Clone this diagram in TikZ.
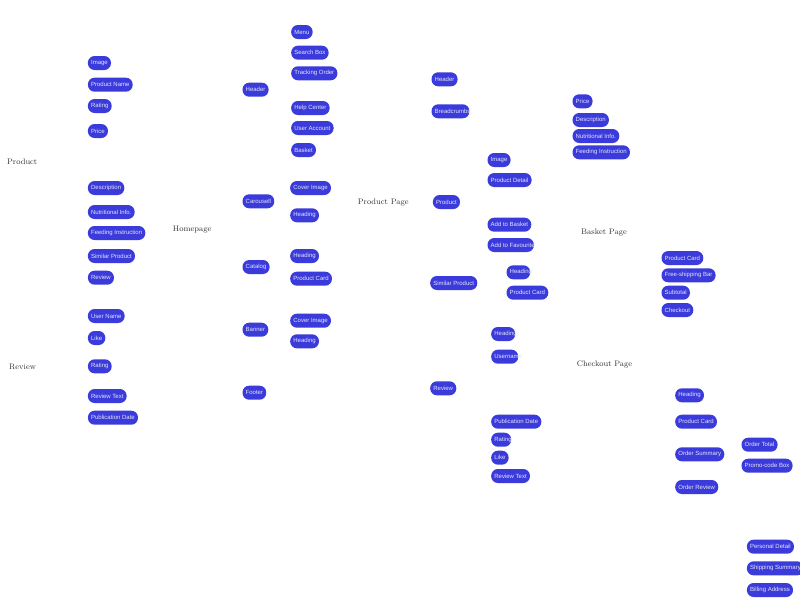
\documentclass[tikz,border=0pt]{standalone}
\usepackage{fontspec}
\newfontfamily\pillfont{Liberation Sans}
\usepackage{xcolor}
\usetikzlibrary{positioning}

\definecolor{pillblue}{HTML}{3B3BDB}
\definecolor{pilltext}{HTML}{E4E4FA}
\definecolor{labelgray}{HTML}{333333}

\tikzset{
pill/.style={fill=pillblue, text=pilltext, rounded corners=6.7pt, minimum height=14pt, inner xsep=3.2pt, inner ysep=0pt, anchor=west, font=\pillfont\fontsize{6}{7}\selectfont},
pagelabel/.style={text=labelgray, anchor=west, inner sep=0pt, font=\fontsize{8}{9}\selectfont}
}

% text that runs past the end of its pill
\newcommand{\cut}[2]{\makebox[#1pt][l]{#2}}

\begin{document}
\begin{tikzpicture}[x=1pt,y=-1pt]

\useasboundingbox (0,0) rectangle (800,598);

% Product
{
\node[pagelabel] (prod) at (7,162) {Product};

\node[pill] (prodImage) at (87.7,63) {Image};
\node[pill] (prodName) at (87.7,84.7) {Product Name};
\node[pill] (prodRating) at (87.7,106) {Rating};
\node[pill] (prodPrice) at (87.7,131) {Price};
\node[pill] (prodDesc) at (87.7,188) {Description};
\node[pill] (prodNutri) at (87.7,212) {Nutritional Info.};
\node[pill] (prodFeed) at (87.7,233) {Feeding Instruction};
\node[pill] (prodSimilar) at (87.7,256) {Similar Product};
\node[pill] (prodReview) at (87.7,277.7) {Review};
}

% Review
{
\node[pagelabel] (rev) at (9,367) {Review};

\node[pill] (revUser) at (87.7,316) {User Name};
\node[pill] (revLike) at (87.7,338) {Like};
\node[pill] (revRating) at (87.7,366.3) {Rating};
\node[pill] (revText) at (87.7,396) {Review Text};
\node[pill] (revDate) at (87.7,417.7) {Publication Date};
}

% Homepage
{
\node[pagelabel] (home) at (172.7,230) {Homepage};

\node[pill] (homeHeader) at (242.3,89.7) {Header};
\node[pill] (homeCarousell) at (242.3,201.3) {Carousell};
\node[pill] (homeCatalog) at (242.3,267) {Catalog};
\node[pill] (homeBanner) at (242.3,329.7) {Banner};
\node[pill] (homeFooter) at (242.3,392.7) {Footer};

\node[pill] (homeMenu) at (291,32) {Menu};
\node[pill] (homeSearch) at (291,52.7) {Search Box};
\node[pill] (homeTracking) at (291,73.3) {Tracking Order};
\node[pill] (homeHelp) at (291,108) {Help Center};
\node[pill] (homeAccount) at (291,128) {User Account};
\node[pill] (homeBasket) at (291,150) {Basket};

\node[pill] (carCover) at (290,188) {Cover Image};
\node[pill] (carHeading) at (290,215.3) {Heading};

\node[pill] (catHeading) at (290,256) {Heading};
\node[pill] (catCard) at (290,278.7) {Product Card};

\node[pill] (banCover) at (290,320.7) {Cover Image};
\node[pill] (banHeading) at (290,341.3) {Heading};
}

% Product Page
{
\node[pagelabel] (pp) at (357.7,203) {Product Page};

\node[pill] (ppHeader) at (431.3,79.3) {Header};
\node[pill] (ppCrumbs) at (431.3,111.3) {\cut{31.5}{Breadcrumbs}};
\node[pill] (ppProduct) at (432.7,202) {Product};
\node[pill] (ppSimilar) at (430,283) {Similar Product};
\node[pill] (ppReview) at (430,388.3) {Review};

\node[pill] (ppImage) at (487.3,160) {Image};
\node[pill] (ppDetail) at (487.3,180) {Product Detail};
\node[pill] (ppAdd) at (487.3,224.7) {Add to Basket};
\node[pill] (ppFav) at (487.3,245) {\cut{40}{Add to Favourite}};

\node[pill] (detPrice) at (572.3,101.3) {Price};
\node[pill] (detDesc) at (572.3,120) {Description};
\node[pill] (detNutri) at (572.3,136) {Nutritional Info.};
\node[pill] (detFeed) at (572.3,152.3) {Feeding Instruction};

\node[pill] (simHeading) at (506.3,272.3) {\cut{17.3}{Heading}};
\node[pill] (simCard) at (506.3,292.7) {Product Card};

\node[pill] (ppRevHeading) at (491,334) {\cut{17.6}{Heading}};
\node[pill] (ppRevUser) at (491,356.7) {\cut{20.6}{Username}};
\node[pill] (ppRevDate) at (491,421.7) {Publication Date};
\node[pill] (ppRevRating) at (491,439.7) {\cut{13.6}{Rating}};
\node[pill] (ppRevLike) at (491,457.7) {Like};
\node[pill] (ppRevText) at (491,476) {Review Text};
}

% Basket Page
{
\node[pagelabel] (bp) at (581,233) {Basket Page};

\node[pill] (bpCard) at (661.3,258) {Product Card};
\node[pill] (bpShipping) at (661.3,275.3) {Free-shipping Bar};
\node[pill] (bpSubtotal) at (661.3,292.7) {Subtotal};
\node[pill] (bpCheckout) at (661.3,310) {Checkout};
}

% Checkout Page
{
\node[pagelabel] (cp) at (576.7,364.7) {Checkout Page};

\node[pill] (cpHeading) at (675,395.3) {Heading};
\node[pill] (cpCard) at (675,421.7) {Product Card};
\node[pill] (cpSummary) at (675,454.3) {Order Summary};
\node[pill] (cpReview) at (675,487) {Order Review};

\node[pill] (sumTotal) at (741.3,444.7) {Order Total};
\node[pill] (sumPromo) at (741.3,465.7) {Promo-code Box};

\node[pill] (ordPersonal) at (746.7,546.7) {Personal Detail};
\node[pill] (ordShipping) at (746.7,568.3) {Shipping Summary};
\node[pill] (ordBilling) at (746.7,590) {Billing Address};
}

\end{tikzpicture}
\end{document}
